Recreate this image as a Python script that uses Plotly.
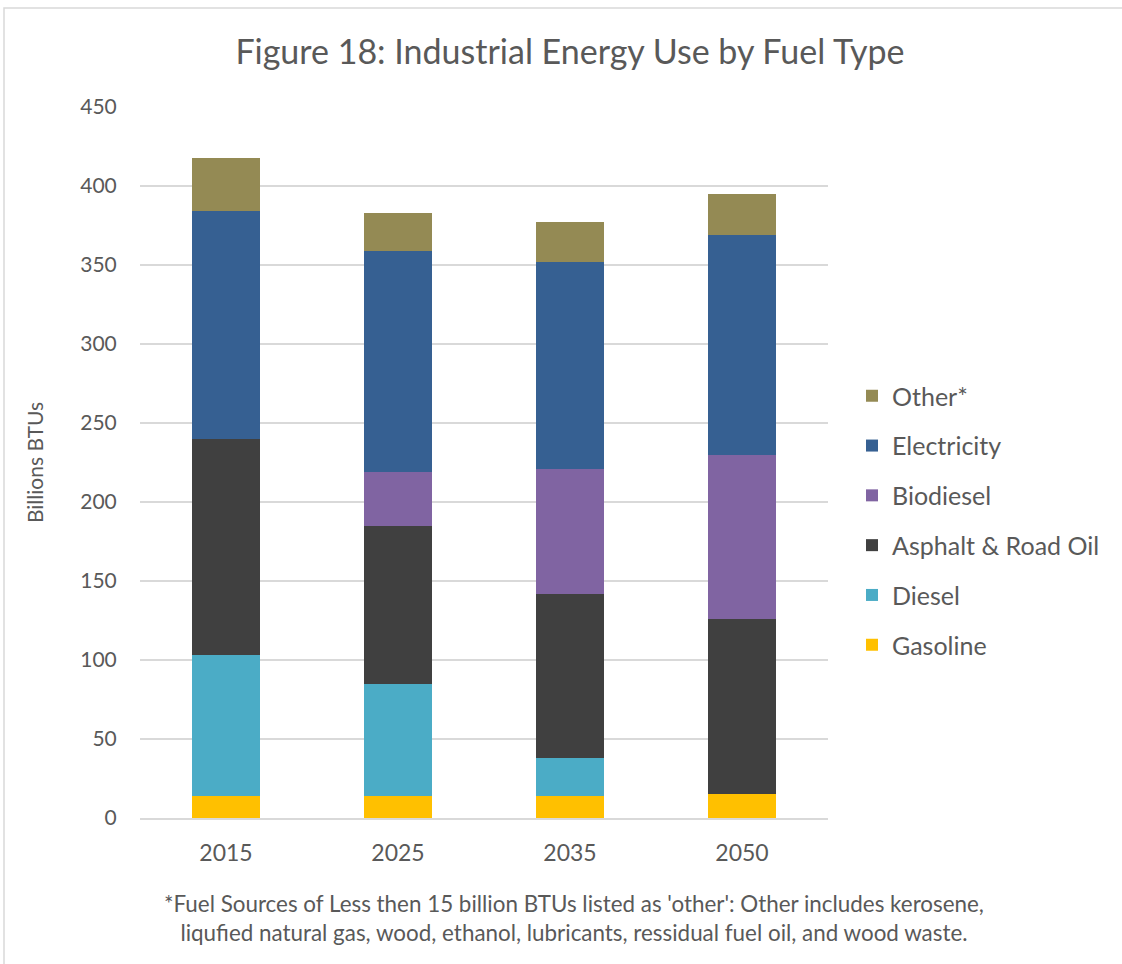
import plotly.graph_objects as go

years = ["2015", "2025", "2035", "2050"]
gasoline = [14, 14, 14, 15]
diesel = [89, 71, 24, 0]
asphalt = [137, 100, 104, 111]
biodiesel = [0, 34, 79, 104]
electricity = [144, 140, 131, 139]
other = [34, 24, 25, 26]

series = [
    ("Gasoline", gasoline, "#FFC000"),
    ("Diesel", diesel, "#4BACC6"),
    ("Asphalt & Road Oil", asphalt, "#404040"),
    ("Biodiesel", biodiesel, "#8064A2"),
    ("Electricity", electricity, "#366092"),
    ("Other*", other, "#948A54"),
]

FONT = "Lato, 'Open Sans', sans-serif"
GRAY = "#595959"

fig = go.Figure()
for i, (name, vals, col) in enumerate(series):
    fig.add_trace(go.Bar(
        x=years, y=vals, name=name, legendgroup=str(i), legendrank=100 - i,
        marker=dict(color=col, line=dict(width=0)),
    ))

W, H = 1122, 964
L, R, T, B = 140, 828, 107, 818

def px2x(px):
    return (px - L) / (R - L)

def py2y(py):
    return (B - py) / (B - T)

fig.update_layout(
    width=W, height=H,
    margin=dict(l=L, r=W - R, t=T, b=H - B),
    barmode="stack", bargap=0.6,
    paper_bgcolor="white", plot_bgcolor="white",
    font=dict(family=FONT, color=GRAY),
    title=dict(text="Figure 18: Industrial Energy Use by Fuel Type",
               x=0.508, xanchor="center", y=1 - 52 / H, yanchor="middle",
               font=dict(size=34, color=GRAY, family=FONT)),
    yaxis=dict(range=[0, 450], dtick=50, showgrid=True, gridcolor="#d9d9d9",
               gridwidth=1.5, zeroline=False, showline=False,
               tickfont=dict(size=21, color=GRAY), ticks="outside", ticklen=18,
               tickcolor="rgba(0,0,0,0)",
               title=dict(text="Billions BTUs", font=dict(size=21, color=GRAY), standoff=30)),
    xaxis=dict(showline=True, linecolor="#d9d9d9", linewidth=1.5,
               tickfont=dict(size=23, color=GRAY), ticks="outside", ticklen=14,
               tickcolor="rgba(0,0,0,0)"),
    legend=dict(x=px2x(852), xanchor="left", y=py2y(373), yanchor="top",
                traceorder="grouped", tracegroupgap=14.3,
                font=dict(size=25, color=GRAY), itemwidth=30,
                bgcolor="rgba(0,0,0,0)"),
    shapes=[dict(type="rect", xref="paper", yref="paper",
                 x0=px2x(4), x1=px2x(1130), y0=py2y(975), y1=py2y(8),
                 line=dict(color="#d9d9d9", width=1.5), fillcolor="rgba(0,0,0,0)", layer="below")],
    annotations=[dict(
        text="*Fuel Sources of Less then 15 billion BTUs listed as 'other': Other includes kerosene,<br>"
             "liqufied natural gas, wood, ethanol, lubricants, ressidual fuel oil, and wood waste.",
        xref="paper", yref="paper", x=px2x(574), y=py2y(918), xanchor="center", yanchor="middle",
        showarrow=False, align="center", font=dict(size=22.4, color=GRAY, family=FONT))],
)

fig.write_html("out.html")
